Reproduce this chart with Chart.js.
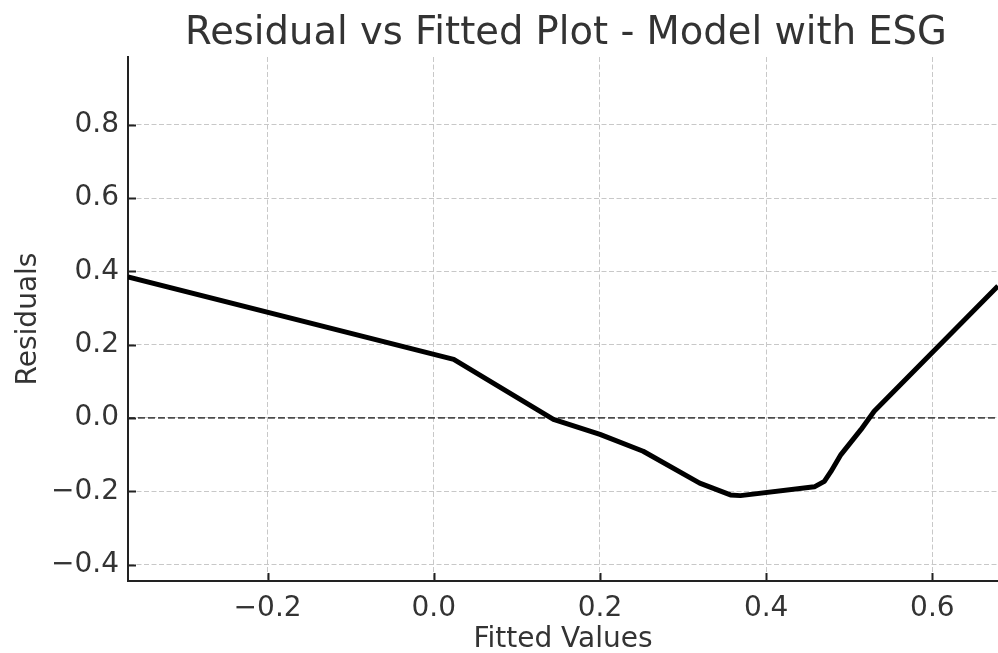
<!DOCTYPE html>
<html>
<head>
<meta charset="utf-8">
<title>Residual vs Fitted Plot - Model with ESG</title>
<script src="https://cdn.jsdelivr.net/npm/chart.js@4.4.1/dist/chart.umd.min.js"></script>
<style>
    html, body { margin: 0; padding: 0; background: #fff; }
    #grafico { display: block; }
</style>
</head>
<body>
<canvas id="grafico" width="998" height="653"></canvas>
<script>
        /* =========== Residual vs Fitted - dados =========== */
        const fittedValues = [-0.368, 0.024, 0.144, 0.200, 0.252, 0.320, 0.357, 0.369, 0.458, 0.470, 0.478, 0.490, 0.514, 0.530, 0.679];
        const residuals    = [0.385, 0.160, -0.004, -0.045, -0.091, -0.178, -0.210, -0.212, -0.188, -0.173, -0.146, -0.100, -0.032, 0.018, 0.360];

        const xTicks = [-0.2, 0.0, 0.2, 0.4, 0.6];
        const yTicks = [-0.4, -0.2, 0.0, 0.2, 0.4, 0.6, 0.8];

        const xLimits = [-0.368, 0.679];
        const yLimits = [-0.445, 0.985];

        const titulo = "Residual vs Fitted Plot - Model with ESG";
        const COR_TEXTO = "#333333";
        const COR_EIXO = "#222222";

        Chart.defaults.font.family = "'DejaVu Sans', sans-serif";
        Chart.defaults.color = COR_TEXTO;

        // formata com sinal de menos tipografico, igual ao matplotlib
        function formatarTick(v) {
            const s = Number(v).toFixed(1);
            return s.replace("-", "\u2212");
        }

        const pontos = fittedValues.map((x, i) => ({ x: x, y: residuals[i] }));
        const linhaZero = [{ x: xLimits[0], y: 0 }, { x: xLimits[1], y: 0 }];

        // ----------------------------------------------------
        //  Plugin: titulo centrado na area do grafico + ticks para dentro
        // ----------------------------------------------------
        const extras = {
            id: "extras",
            afterDraw(chart) {
                const ctx = chart.ctx;
                const area = chart.chartArea;
                const sx = chart.scales.x;
                const sy = chart.scales.y;

                ctx.save();
                ctx.strokeStyle = COR_EIXO;
                ctx.lineWidth = 2;
                xTicks.forEach(v => {
                    const px = Math.round(sx.getPixelForValue(v)) + 0.5;
                    ctx.beginPath();
                    ctx.moveTo(px, area.bottom);
                    ctx.lineTo(px, area.bottom - 8);
                    ctx.stroke();
                });
                yTicks.forEach(v => {
                    const py = Math.round(sy.getPixelForValue(v)) + 0.5;
                    ctx.beginPath();
                    ctx.moveTo(area.left, py);
                    ctx.lineTo(area.left + 8, py);
                    ctx.stroke();
                });

                ctx.fillStyle = COR_TEXTO;
                ctx.font = "38.5px 'DejaVu Sans', sans-serif";
                ctx.textAlign = "center";
                ctx.textBaseline = "alphabetic";
                ctx.fillText(titulo, (area.left + area.right) / 2 + 3, 44);
                ctx.restore();
            }
        };

        const grade = {
            color: "#c8c8c8",
            lineWidth: 1,
            drawTicks: false
        };
        const borda = {
            display: true,
            color: COR_EIXO,
            width: 2,
            dash: [5, 2.5]
        };

        new Chart(document.getElementById("grafico"), {
            type: "line",
            data: {
                datasets: [
                    {
                        label: "Residuals",
                        data: pontos,
                        borderColor: "#000000",
                        borderWidth: 5,
                        borderJoinStyle: "round",
                        pointRadius: 0,
                        fill: false,
                        tension: 0,
                        order: 1
                    },
                    {
                        label: "zero",
                        data: linhaZero,
                        borderColor: "rgba(60, 60, 60, 0.9)",
                        borderWidth: 1.8,
                        borderDash: [7, 3],
                        pointRadius: 0,
                        fill: false,
                        order: 2
                    }
                ]
            },
            options: {
                responsive: false,
                animation: false,
                devicePixelRatio: 1,
                layout: { padding: { top: 57, left: 0, right: 0, bottom: 0 } },
                plugins: {
                    legend: { display: false },
                    title: { display: false },
                    tooltip: { enabled: false }
                },
                scales: {
                    x: {
                        type: "linear",
                        min: xLimits[0],
                        max: xLimits[1],
                        afterBuildTicks: s => { s.ticks = xTicks.map(v => ({ value: v })); },
                        afterFit: s => { s.height = 72; },
                        grid: grade,
                        border: borda,
                        ticks: {
                            font: { size: 28 },
                            color: COR_TEXTO,
                            padding: 11,
                            maxRotation: 0,
                            callback: v => formatarTick(v)
                        },
                        title: {
                            display: true,
                            text: "Fitted Values",
                            font: { size: 28 },
                            color: COR_TEXTO,
                            padding: { top: 0, bottom: -4 }
                        }
                    },
                    y: {
                        type: "linear",
                        min: yLimits[0],
                        max: yLimits[1],
                        afterBuildTicks: s => { s.ticks = yTicks.map(v => ({ value: v })); },
                        afterFit: s => { s.width = 128; },
                        grid: grade,
                        border: borda,
                        ticks: {
                            font: { size: 28 },
                            color: COR_TEXTO,
                            padding: 9,
                            callback: v => formatarTick(v)
                        },
                        title: {
                            display: true,
                            text: "Residuals",
                            font: { size: 28 },
                            color: COR_TEXTO,
                            padding: { top: 12, bottom: 0 }
                        }
                    }
                }
            },
            plugins: [extras]
        });
</script>
</body>
</html>
